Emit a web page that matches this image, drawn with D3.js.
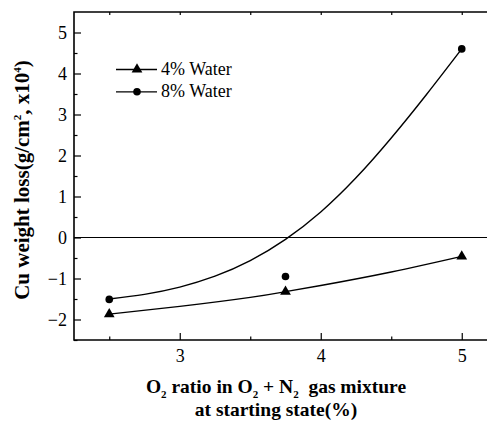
<!DOCTYPE html>
<html>
<head>
<meta charset="utf-8">
<script src="https://cdn.jsdelivr.net/npm/d3@7/dist/d3.min.js"></script>
<style>
  html, body { margin: 0; padding: 0; background: #fff; }
  svg text { font-family: "Liberation Serif", "Times New Roman", Times, serif; }
</style>
</head>
<body>
<svg id="chart" width="487" height="421"></svg>
<script>
// Measured points (O2 ratio %, Cu weight loss x10^4 g/cm^2)
const o2Ratio = [2.5, 3.75, 5.0];
const water4 = [-1.87, -1.32, -0.46];
const water8 = [-1.51, -0.95, 4.6];

// Fitted trend curves, sampled along each fit
const fit4X = [2.5, 3.0, 3.5, 3.75, 4.0, 4.5, 5.0];
const fit4Y = [-1.87, -1.68, -1.46, -1.32, -1.17, -0.84, -0.46];
const fit8X = [2.5, 2.75, 3.0, 3.25, 3.5, 3.75, 4.0, 4.25, 4.5, 4.75, 5.0];
const fit8Y = [-1.5, -1.386, -1.209, -0.944, -0.565, -0.047, 0.622, 1.455, 2.427, 3.488, 4.6];

const xTicks = [3, 4, 5];
const xMinor = [2.5, 3.5, 4.5];
const yTicks = [-2, -1, 0, 1, 2, 3, 4, 5];
const yMinor = [-2.5, -1.5, -0.5, 0.5, 1.5, 2.5, 3.5, 4.5];

const seriesNames = ["4% Water", "8% Water"];

const svg = d3.select("#chart");
const plotL = 74, plotT = 12, plotR = 497, plotB = 340;

const x = d3.scaleLinear().domain([2.25, 5.25]).range([plotL, plotR]);
const y = d3.scaleLinear().domain([-2.5, 5.5]).range([plotB, plotT]);

// Zero reference line
svg.append("line")
  .attr("x1", plotL).attr("x2", plotR)
  .attr("y1", y(0)).attr("y2", y(0))
  .attr("stroke", "#000").attr("stroke-width", 1.2);

// Trend curves
const line = d3.line().x(d => x(d[0])).y(d => y(d[1])).curve(d3.curveNatural);
svg.append("path")
  .datum(fit4X.map((v, i) => [v, fit4Y[i]]))
  .attr("d", line).attr("fill", "none").attr("stroke", "#000").attr("stroke-width", 1.4);
svg.append("path")
  .datum(fit8X.map((v, i) => [v, fit8Y[i]]))
  .attr("d", line).attr("fill", "none").attr("stroke", "#000").attr("stroke-width", 1.4);

// Markers
const tri = d3.symbol().type(d3.symbolTriangle).size(50);
svg.selectAll(".tri").data(o2Ratio.map((v, i) => [v, water4[i]]))
  .enter().append("path")
  .attr("transform", d => `translate(${x(d[0])},${y(d[1])})`)
  .attr("d", tri).attr("fill", "#000");
svg.selectAll(".dot").data(o2Ratio.map((v, i) => [v, water8[i]]))
  .enter().append("circle")
  .attr("cx", d => x(d[0])).attr("cy", d => y(d[1])).attr("r", 3.8).attr("fill", "#000");

// Axes (ticks point inward)
const axisStyle = g => {
  g.attr("font-family", null);
  g.select(".domain").remove();
  g.selectAll("line").attr("stroke", "#000").attr("stroke-width", 1.2);
  g.selectAll("text").attr("font-size", 18).attr("fill", "#000");
};

svg.append("g").attr("transform", `translate(0,${plotB})`)
  .call(d3.axisBottom(x).tickValues(xTicks).tickSizeInner(-7).tickSizeOuter(0).tickPadding(9).tickFormat(d3.format("d")))
  .call(axisStyle);
svg.append("g").attr("transform", `translate(0,${plotB})`)
  .call(d3.axisBottom(x).tickValues(xMinor).tickSizeInner(-3.5).tickSizeOuter(0).tickFormat(""))
  .call(axisStyle);
svg.append("g").attr("transform", `translate(0,${plotT})`)
  .call(d3.axisTop(x).tickValues(xTicks.concat(xMinor)).tickSizeInner(-3).tickSizeOuter(0).tickFormat(""))
  .call(axisStyle);

svg.append("g").attr("transform", `translate(${plotL},0)`)
  .call(d3.axisLeft(y).tickValues(yTicks).tickSizeInner(-7).tickSizeOuter(0).tickPadding(7).tickFormat(d3.format("d")))
  .call(axisStyle);
svg.append("g").attr("transform", `translate(${plotL},0)`)
  .call(d3.axisLeft(y).tickValues(yMinor).tickSizeInner(-3.5).tickSizeOuter(0).tickFormat(""))
  .call(axisStyle);

// Frame
svg.append("path")
  .attr("d", `M${plotR},${plotT}H${plotL}V${plotB}H${plotR}`)
  .attr("fill", "none").attr("stroke", "#000").attr("stroke-width", 1.6);

// Legend
const legend = svg.append("g");
[0, 1].forEach(i => {
  const ly = 69.5 + i * 22.3;
  legend.append("line").attr("x1", 116).attr("x2", 157).attr("y1", ly).attr("y2", ly)
    .attr("stroke", "#000").attr("stroke-width", 1.3);
  if (i === 0) {
    legend.append("path").attr("transform", `translate(137,${ly})`).attr("d", tri).attr("fill", "#000");
  } else {
    legend.append("circle").attr("cx", 137).attr("cy", ly).attr("r", 3.8).attr("fill", "#000");
  }
  legend.append("text").attr("x", 161).attr("y", ly + 5.5)
    .attr("font-size", 18).text(seriesNames[i]);
});

// Y axis title
const yTitle = svg.append("text")
  .attr("transform", "translate(28.5,180) rotate(-90)")
  .attr("text-anchor", "middle").attr("font-weight", "bold").attr("font-size", 21);
yTitle.append("tspan").text("Cu weight loss(g/cm");
yTitle.append("tspan").attr("font-size", 11).attr("dy", -8).text("2");
yTitle.append("tspan").attr("dy", 8).text(", x10");
yTitle.append("tspan").attr("font-size", 11).attr("dy", -8).text("4");
yTitle.append("tspan").attr("dy", 8).text(")");

// X axis title
const xTitle = svg.append("text")
  .attr("x", 276).attr("y", 393)
  .attr("text-anchor", "middle").attr("font-weight", "bold").attr("font-size", 19.5);
xTitle.append("tspan").text("O");
xTitle.append("tspan").attr("font-size", 11).attr("dy", 5).text("2");
xTitle.append("tspan").attr("dy", -5).text(" ratio in O");
xTitle.append("tspan").attr("font-size", 11).attr("dy", 5).text("2");
xTitle.append("tspan").attr("dy", -5).text(" + N");
xTitle.append("tspan").attr("font-size", 11).attr("dy", 5).text("2");
xTitle.append("tspan").attr("dy", -5).text("\u00a0 gas mixture");
svg.append("text")
  .attr("x", 276).attr("y", 416)
  .attr("text-anchor", "middle").attr("font-weight", "bold").attr("font-size", 19.5)
  .text("at starting state(%)");
</script>
</body>
</html>
